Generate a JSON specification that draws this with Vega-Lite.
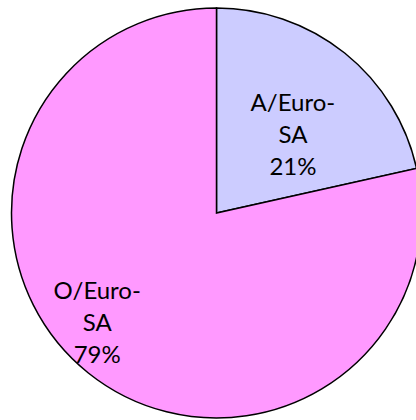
{
  "$schema": "https://vega.github.io/schema/vega-lite/v6.json",
  "autosize": {"type": "fit", "contains": "padding"},
  "width": 416,
  "height": 420,
  "padding": {"left": 17, "top": 6, "right": 0, "bottom": 0},
  "background": "white",
  "config": {"view": {"stroke": null}},
  "data": {
    "values": [
      {"group": "A/Euro-SA", "share": 21.5, "label": "A/Euro-\nSA\n21%"},
      {"group": "O/Euro-SA", "share": 78.5, "label": "O/Euro-\nSA\n79%"}
    ]
  },
  "layer": [
    {
      "mark": {"type": "arc", "radius": 205, "stroke": "black", "strokeWidth": 1.5},
      "encoding": {
        "theta": {"field": "share", "type": "quantitative", "stack": true},
        "order": {"field": "group", "type": "nominal"},
        "color": {
          "field": "group",
          "type": "nominal",
          "scale": {"domain": ["A/Euro-SA", "O/Euro-SA"], "range": ["#CCCCFF", "#FF99FF"]},
          "legend": null
        }
      }
    },
    {
      "transform": [{"filter": "datum.group === 'A/Euro-SA'"}],
      "mark": {"type": "text", "theta": 0.612, "radius": 133, "font": "Lato", "fontSize": 24, "lineHeight": 32, "lineBreak": "\n", "align": "center", "baseline": "middle", "color": "black"},
      "encoding": {"text": {"field": "label"}}
    },
    {
      "transform": [{"filter": "datum.group === 'O/Euro-SA'"}],
      "mark": {"type": "text", "theta": 4.128, "radius": 143, "font": "Lato", "fontSize": 24, "lineHeight": 32, "lineBreak": "\n", "align": "center", "baseline": "middle", "color": "black"},
      "encoding": {"text": {"field": "label"}}
    }
  ]
}
